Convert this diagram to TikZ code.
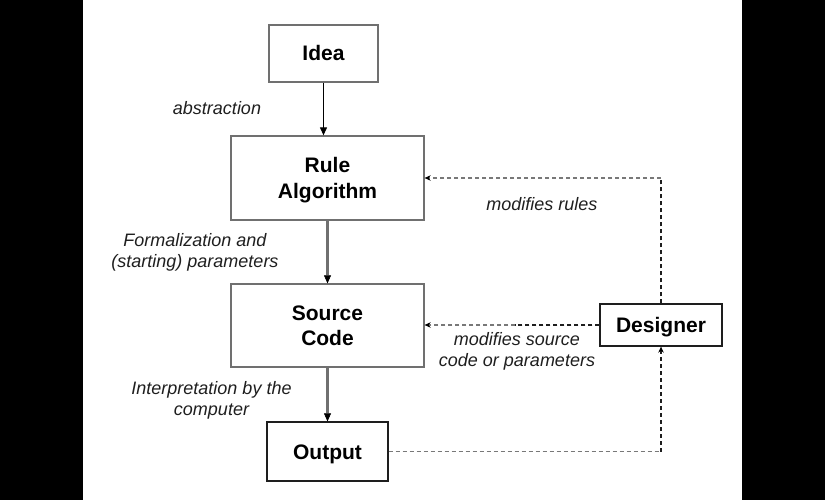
\documentclass[tikz,border=0pt]{standalone}
\usepackage{fontspec}
\setmainfont{Liberation Sans}
\usetikzlibrary{arrows.meta}
\definecolor{boxgray}{HTML}{707070}
\definecolor{darkline}{HTML}{1E1E1E}
\definecolor{dashgray}{HTML}{787878}
\begin{document}
\begin{tikzpicture}[x=1pt,y=-1pt,
  box/.style={draw=boxgray, line width=1.3pt, inner sep=0pt, align=center,
    font=\fontsize{21}{25}\selectfont\bfseries, text=black, fill=white,
    text height=15pt, text depth=0pt},
  twoline/.style={text height=40pt, text depth=0pt},
  darkbox/.style={box, draw=darkline},
  lbl/.style={inner sep=0pt, font=\fontsize{18}{21}\selectfont\itshape, text=black!88},
  solidarrow/.style={line width=1.1pt, -{Triangle[length=8pt,width=7pt]}},
  thickarrow/.style={draw=boxgray, line width=2.4pt, -{Triangle[length=8pt,width=7pt,color=black,line width=0.5pt]}},
  dashline/.style={line width=1.9pt, dash pattern=on 4pt off 3pt},
  dtip/.style={-{Stealth[length=6pt,width=5.5pt,color=black]}},
]
% canvas and side bars
\fill[white] (0,0) rectangle (825,500);
\fill[black] (0,0) rectangle (83,500);
\fill[black] (742,0) rectangle (825,500);

% nodes
\node[box, minimum width=109pt, minimum height=57pt] (idea) at (323.5,53.5) {Idea};
\node[box, twoline, minimum width=193pt, minimum height=84pt] (rule) at (327.5,178) {Rule\\Algorithm};
\node[box, twoline, minimum width=193pt, minimum height=83pt] (src) at (327.5,325.5) {Source\\Code};
\node[darkbox, minimum width=121pt, minimum height=59pt] (out) at (327.5,451.5) {Output};
\node[darkbox, minimum width=122pt, minimum height=42pt] (des) at (661,325) {Designer};

% labels
\node[lbl] (labs) at (217,108) {abstraction};
\node[lbl, align=center] (lform) at (195,252.5) {Formalization and\\(starting) parameters};
\node[lbl, align=center] (linterp) at (211.5,400.5) {Interpretation by the\\computer};
\node[lbl] (lrules) at (542,204) {modifies rules};
\node[lbl, align=center] (lsrc) at (517,351) {modifies source\\code or parameters};

% corner points of the dashed connectors
\coordinate (c1) at (des.north |- rule.east);
\coordinate (c2) at (out.east -| des.south);
\coordinate (m1) at (515,325);

% connectors
\draw[solidarrow] (idea.south) -- (idea.south |- rule.north);
\draw[thickarrow] (rule.south) -- (src.north);
\draw[thickarrow] (src.south) -- (out.north);
\draw[dashline, draw=darkline] (des.north) -- (c1);
\draw[dashline, line width=1.5pt, draw=dashgray, dtip] (c1) -- (rule.east);
\draw[dashline, line width=1.5pt, draw=dashgray, dtip] (des.west) -- (des.west -| src.east);
\draw[dashline, draw=darkline] (des.west) -- (m1);
\draw[dashline, line width=1.3pt, draw=dashgray] (out.east) -- (c2);
\draw[dashline, draw=darkline, dtip] (c2) -- (des.south);
\end{tikzpicture}
\end{document}
